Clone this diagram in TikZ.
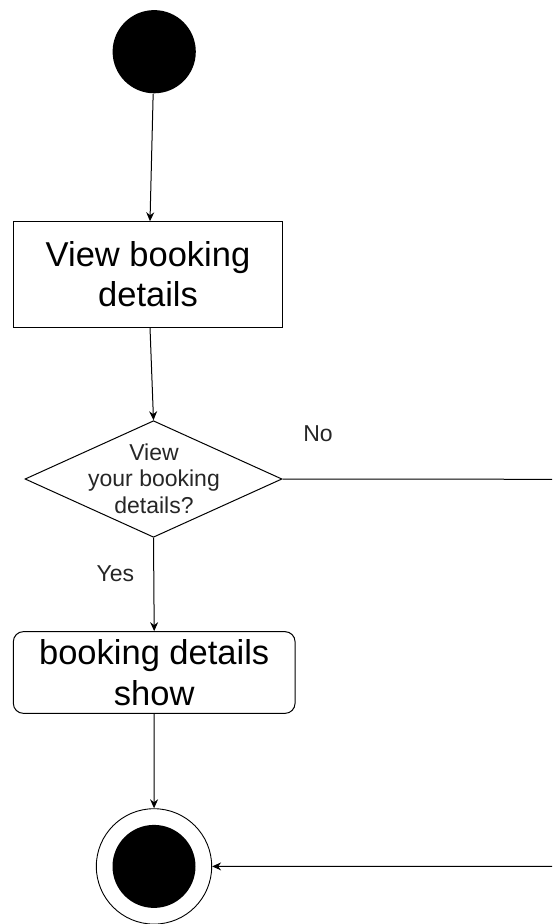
\documentclass[tikz,border=0pt]{standalone}
\usepackage{fontspec}
\setmainfont{Liberation Sans}
\usetikzlibrary{arrows.meta,shapes.geometric,calc}
\begin{document}
\begin{tikzpicture}[x=1pt,y=-1pt,line width=1pt,
  arr/.style={draw=black,-{Stealth[length=9pt,width=8pt,inset=3pt]}},
  startnode/.style={circle,fill=black,minimum size=83.2pt,inner sep=0pt},
  actbox/.style={draw=black,rectangle,minimum width=269.4pt,minimum height=105.3pt,
    inner sep=0pt,align=center,font=\fontsize{34.5}{40.5}\selectfont},
  showbox/.style={draw=black,rectangle,rounded corners=10pt,minimum width=281.7pt,
    minimum height=81.7pt,inner sep=0pt,align=center,font=\fontsize{34.5}{40.5}\selectfont},
  decision/.style={draw=black,diamond,minimum width=257pt,minimum height=116.6pt,inner sep=0pt},
  qtext/.style={align=center,inner sep=0pt,font=\fontsize{23}{26.7}\selectfont,text=black!85},
  lbl/.style={inner sep=0pt,font=\fontsize{23}{27}\selectfont,text=black!85},
  endouter/.style={circle,draw=black,line width=0.9pt,minimum size=115.4pt,inner sep=0pt},
  endinner/.style={circle,fill=black,minimum size=83pt,inner sep=0pt}]
\useasboundingbox (0,0) rectangle (552,924);
\clip (0,0) rectangle (552,924);

% activity nodes
\node[startnode] (start) at (154.2,51.7) {};
\node[actbox] (view) at (148,274.4) {View booking\\details};
\node[decision] (dia) at (153.5,479) {};
\node[qtext] (diaq) at (154,478.6) {View\\your booking\\details?};
\node[showbox] (show) at (154.2,672.5) {booking details\\show};
\node[endouter] (fin) at (154,866.4) {};
\node[endinner] (fincore) at (fin.center) {};

% guard labels
\node[lbl,anchor=base] (no) at (318,441) {No};
\node[lbl,anchor=base] (yes) at (115.3,581.7) {Yes};

% flow
\draw[arr] (start) -- ($(view.north)+(2,0)$);
\draw[arr] (view) -- (dia.north);
\draw[arr] (dia.south) -- (show.north);
\draw[arr] (show) -- (fin);
\coordinate (rt) at (556,479.3);
\coordinate (rb) at (556,866.4);
\draw[arr] (dia.east) -- (rt) -- (rb) -- (fin);
\end{tikzpicture}
\end{document}
